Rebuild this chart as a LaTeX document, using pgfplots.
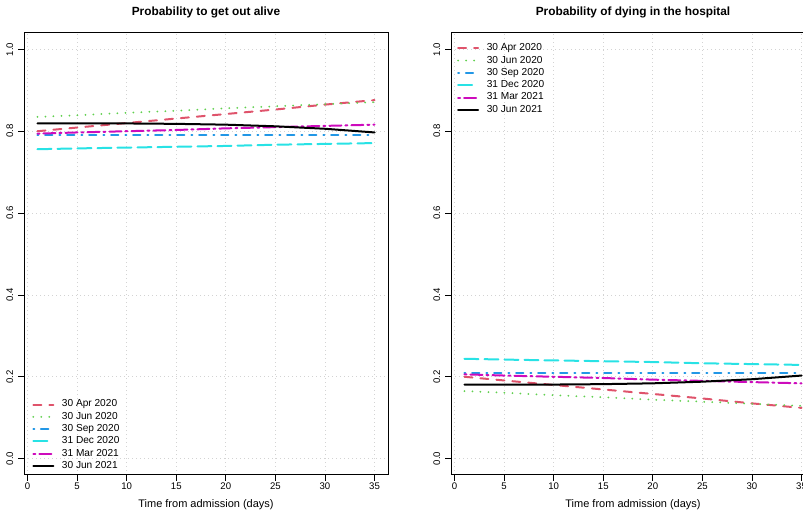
\documentclass[border=0pt]{standalone}
\usepackage{fontspec}
\setmainfont{Liberation Sans}
\usepackage{pgfplots}
\usepackage{pgfplotstable}
\pgfplotsset{compat=1.18}
\definecolor{rred}{HTML}{DF536B}
\definecolor{rgreen}{HTML}{61D04F}
\definecolor{rblue}{HTML}{2297E6}
\definecolor{rcyan}{HTML}{28E2E5}
\definecolor{rmag}{HTML}{CD0BBC}
\definecolor{rgrid}{HTML}{D3D3D3}
\pgfplotstableread{
x red green blue cyan mag black
1 0.800 0.835 0.790 0.756 0.794 0.819
5 0.809 0.839 0.790 0.758 0.797 0.819
10 0.820 0.845 0.790 0.760 0.800 0.819
15 0.831 0.850 0.790 0.762 0.803 0.818
20 0.842 0.856 0.790 0.764 0.807 0.816
25 0.853 0.861 0.790 0.767 0.810 0.812
30 0.865 0.866 0.790 0.769 0.813 0.806
35 0.876 0.871 0.790 0.771 0.816 0.797
}\alive
\pgfplotstableread{
x red green blue cyan mag black
1 0.200 0.165 0.210 0.244 0.206 0.181
5 0.191 0.161 0.210 0.242 0.203 0.181
10 0.180 0.155 0.210 0.240 0.200 0.181
15 0.169 0.150 0.210 0.238 0.197 0.182
20 0.158 0.144 0.210 0.236 0.193 0.184
25 0.147 0.139 0.210 0.233 0.190 0.188
30 0.135 0.134 0.210 0.231 0.187 0.194
35 0.124 0.129 0.210 0.229 0.184 0.203
}\dying
\pgfplotsset{
  rstyle/.style={
    scale only axis, width=273pt, height=331.5pt,
    xmin=-0.36, xmax=36.36, ymin=-0.04, ymax=1.04,
    xtick={0,5,...,35}, ytick={0,0.2,...,1.0},
    tick pos=left, tick align=outside,
    major tick length=4.5pt,
    tick style={black, line width=0.6pt},
    axis line style={black, line width=0.75pt},
    grid=major,
    major grid style={rgrid, line width=0.6pt, dash pattern=on 0.75pt off 2.25pt},
    /pgf/number format/assume math mode=true,
    yticklabel style={/pgf/number format/fixed, /pgf/number format/fixed zerofill, /pgf/number format/precision=1, rotate=90, anchor=south, font=\fontsize{7.2}{9}\selectfont},
    xticklabel style={font=\fontsize{7.2}{9}\selectfont, yshift=2pt},
    title style={font=\bfseries\fontsize{8.9}{11}\selectfont, at={(0.5,1)}, anchor=base, yshift=7pt},
    xlabel style={font=\fontsize{8.25}{10}\selectfont, at={(0.5,0)}, anchor=base, yshift=-24pt},
    every axis plot/.append style={line width=1.5pt, line cap=round},
    legend style={draw=none, fill=none, font=\fontsize{7.6}{9}\selectfont, row sep=0pt, column sep=5pt, inner sep=0pt,
      nodes={inner sep=0.75pt, text height=5.7pt, text depth=2.04pt}},
    legend cell align=left,
    legend image code/.code={\draw[#1] (0pt,0pt) -- (15pt,0pt);},
  },
  lred/.style={rred, dash pattern=on 6pt off 6pt},
  lgreen/.style={rgreen, dash pattern=on 0pt off 6pt},
  lblue/.style={rblue, dash pattern=on 0.75pt off 5pt on 5.5pt off 5.25pt},
  lcyan/.style={rcyan, dash pattern=on 10.5pt off 4.5pt},
  lmag/.style={rmag, dash pattern=on 1.5pt off 3pt on 9pt off 3pt},
  lblack/.style={black},
}
\begin{document}
\begin{tikzpicture}
\useasboundingbox (0pt,0pt) rectangle (602.25pt,385.5pt);
\clip (0pt,0pt) rectangle (602.25pt,385.5pt);
\begin{axis}[rstyle, at={(18pt,29.25pt)}, anchor=south west,
  title={Probability to get out alive},
  xlabel={Time from admission (days)},
  legend style={at={(0.022,0.174)}, anchor=north west}]
\addplot[lred] table[x=x, y=red] {\alive};
\addlegendentry{30 Apr 2020}
\addplot[lgreen] table[x=x, y=green] {\alive};
\addlegendentry{30 Jun 2020}
\addplot[lblue] table[x=x, y=blue] {\alive};
\addlegendentry{30 Sep 2020}
\addplot[lcyan] table[x=x, y=cyan] {\alive};
\addlegendentry{31 Dec 2020}
\addplot[lmag] table[x=x, y=mag] {\alive};
\addlegendentry{31 Mar 2021}
\addplot[lblack] table[x=x, y=black] {\alive};
\addlegendentry{30 Jun 2021}
\end{axis}
\begin{axis}[rstyle, at={(338.25pt,29.25pt)}, anchor=south west,
  title={Probability of dying in the hospital},
  xlabel={Time from admission (days)},
  legend style={at={(0.016,0.980)}, anchor=north west}]
\addplot[lred] table[x=x, y=red] {\dying};
\addlegendentry{30 Apr 2020}
\addplot[lgreen] table[x=x, y=green] {\dying};
\addlegendentry{30 Jun 2020}
\addplot[lblue] table[x=x, y=blue] {\dying};
\addlegendentry{30 Sep 2020}
\addplot[lcyan] table[x=x, y=cyan] {\dying};
\addlegendentry{31 Dec 2020}
\addplot[lmag] table[x=x, y=mag] {\dying};
\addlegendentry{31 Mar 2021}
\addplot[lblack] table[x=x, y=black] {\dying};
\addlegendentry{30 Jun 2021}
\end{axis}
\end{tikzpicture}
\end{document}
